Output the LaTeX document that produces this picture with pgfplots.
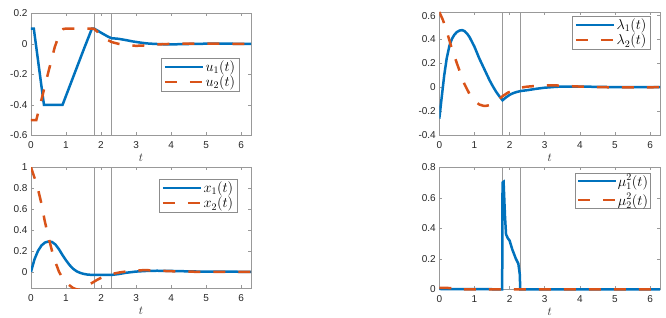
\documentclass[border=0pt]{standalone}
\usepackage[no-math]{fontspec}
\setmainfont{Liberation Sans}
\usepackage{pgfplots}
\usepackage{pgfplotstable}
\pgfplotsset{compat=1.18}
\definecolor{mblue}{RGB}{0,114,189}
\definecolor{morange}{RGB}{217,83,25}

\pgfplotstableread{
t v
0 0.1
0.08 0.1
0.37 -0.4
0.9 -0.4
1.1 -0.28
1.3 -0.16
1.5 -0.04
1.74 0.1
1.8 0.1
1.9 0.087
2.0 0.073
2.1 0.06
2.2 0.047
2.3 0.037
2.5 0.033
2.7 0.025
2.9 0.016
3.1 0.009
3.3 0.003
3.5 0
3.8 -0.003
4.1 -0.003
4.5 -0.001
5.0 0.001
5.5 0.001
6.2832 0
}\uone
\pgfplotstableread{
t v
0 -0.5
0.15 -0.5
0.3 -0.365
0.49 -0.19
0.68 -0.02
0.82 0.07
0.92 0.097
1.0 0.1
1.75 0.1
1.8 0.098
2.0 0.06
2.15 0.03
2.3 0.012
2.5 0.0
2.7 -0.008
3.0 -0.013
3.3 -0.01
3.6 -0.004
4.0 0
4.5 0.002
5.0 0.001
6.2832 0
}\utwo
\pgfplotstableread{
t v
0 0
0.1 0.12
0.2 0.2
0.3 0.252
0.4 0.28
0.5 0.29
0.6 0.285
0.7 0.26
0.8 0.215
0.9 0.16
1.0 0.11
1.1 0.065
1.2 0.03
1.3 0.005
1.4 -0.01
1.5 -0.02
1.6 -0.026
1.7 -0.029
1.8 -0.03
2.3 -0.03
2.5 -0.022
2.7 -0.01
3.0 0.002
3.3 0.008
3.6 0.01
4.0 0.008
4.5 0.004
5.0 0.001
6.2832 0
}\xone
\pgfplotstableread{
t v
0 1
0.1 0.9
0.2 0.79
0.3 0.65
0.39 0.49
0.5 0.33
0.6 0.2
0.7 0.09
0.8 0.0
0.9 -0.06
1.0 -0.1
1.1 -0.13
1.2 -0.155
1.3 -0.168
1.4 -0.172
1.5 -0.165
1.6 -0.14
1.7 -0.115
1.8 -0.095
1.9 -0.075
2.0 -0.058
2.1 -0.044
2.2 -0.032
2.3 -0.022
2.5 -0.008
2.7 0.002
3.0 0.012
3.25 0.016
3.5 0.013
3.8 0.008
4.2 0.003
4.7 0
5.2 -0.001
6.2832 0
}\xtwo
\pgfplotstableread{
t v
0 -0.263
0.07 -0.08
0.14 0.1
0.21 0.24
0.29 0.35
0.36 0.405
0.43 0.44
0.5 0.462
0.58 0.475
0.65 0.478
0.72 0.47
0.8 0.445
0.86 0.42
1.0 0.34
1.14 0.24
1.3 0.14
1.43 0.059
1.52 0.01
1.62 -0.039
1.72 -0.08
1.8 -0.109
1.9 -0.085
2.0 -0.064
2.1 -0.05
2.2 -0.04
2.33 -0.031
2.5 -0.025
2.76 -0.013
3.0 -0.004
3.3 0.003
3.53 0.006
4.0 0.006
4.5 0.003
5.0 0.001
6.2832 0
}\lone
\pgfplotstableread{
t v
0 0.63
0.1 0.565
0.19 0.49
0.33 0.35
0.52 0.184
0.71 0.03
0.9 -0.08
1.0 -0.115
1.14 -0.145
1.25 -0.155
1.33 -0.156
1.43 -0.15
1.52 -0.137
1.67 -0.109
1.81 -0.073
1.95 -0.046
2.1 -0.025
2.33 -0.003
2.5 0.005
2.76 0.011
3.0 0.015
3.24 0.016
3.5 0.013
3.8 0.008
4.2 0.003
4.7 0
5.2 -0.001
6.2832 0
}\ltwo
\pgfplotstableread{
t v
0 0.002
1.79 0
1.80 0.7
1.83 0.705
1.87 0.48
1.9 0.36
1.95 0.335
2.0 0.32
2.08 0.26
2.18 0.2
2.25 0.168
2.29 0.1
2.305 0
6.2832 0
}\mone
\pgfplotstableread{
t v
0 0.01
0.35 0.008
0.4 0
6.2832 0
}\mtwo

\pgfplotsset{
  mstyle/.style={
    scale only axis, width=220pt,
    xmin=0, xmax=6.2832, xtick={0,1,2,3,4,5,6},
    axis line style={draw=black!40, line width=0.6pt},
    tick style={draw=black!40, line width=0.5pt},
    tick align=inside, major tick length=3pt,
    ticklabel style={font=\fontsize{10}{12}\selectfont, text=black!85},
    xticklabel style={anchor=center, yshift=-10pt},
    yticklabel style={anchor=east},
    /pgf/number format/assume math mode=true,
    xlabel={$t$},
    xlabel style={font=\fontsize{13}{15}\selectfont, at={(axis description cs:0.5,0)}, anchor=center, yshift=-22.5pt, text=black!85},
    legend cell align=left,
    legend style={draw=black!45, font=\fontsize{14}{16}\selectfont, inner xsep=2pt, inner ysep=1pt, anchor=north east,
      nodes={inner sep=1.5pt}, row sep=0pt},
    legend image code/.code={\draw[##1, line width=2.5pt] (0pt,0pt) -- (38pt,0pt);},
  },
  c1/.style={mblue, line width=2.5pt},
  c2/.style={morange, line width=2.5pt, dash pattern=on 12pt off 13pt},
  vline/.style={black!40, line width=0.8pt, forget plot},
}

\begin{document}
\begin{tikzpicture}
\useasboundingbox (0,0) rectangle (666pt,318pt);
% top left
\begin{axis}[mstyle, at={(31pt,182.5pt)}, anchor=south west, height=122.2pt,
  ymin=-0.6, ymax=0.2, ytick={-0.6,-0.4,-0.2,0,0.2},
  legend style={at={(0.945,0.634)}}]
\addplot[vline] coordinates {(1.8,-0.6) (1.8,0.2)};
\addplot[vline] coordinates {(2.3,-0.6) (2.3,0.2)};
\addplot[c1] table[x=t,y=v] {\uone};
\addplot[c2] table[x=t,y=v] {\utwo};
\legend{$u_1(t)$,$u_2(t)$}
\end{axis}
% bottom left
\begin{axis}[mstyle, at={(31pt,29.5pt)}, anchor=south west, height=121.2pt,
  ymin=-0.16, ymax=1, ytick={0,0.2,0.4,0.6,0.8,1},
  legend style={at={(0.936,0.903)}}]
\addplot[vline] coordinates {(1.8,-0.16) (1.8,1)};
\addplot[vline] coordinates {(2.3,-0.16) (2.3,1)};
\addplot[c1] table[x=t,y=v] {\xone};
\addplot[c2] table[x=t,y=v] {\xtwo};
\legend{$x_1(t)$,$x_2(t)$}
\end{axis}
% top right
\begin{axis}[mstyle, at={(439.3pt,183pt)}, anchor=south west, width=220.7pt, height=123pt,
  ymin=-0.4, ymax=0.63, ytick={-0.4,-0.2,0,0.2,0.4,0.6},
  legend style={at={(0.955,0.967)}}]
\addplot[vline] coordinates {(1.8,-0.4) (1.8,0.63)};
\addplot[vline] coordinates {(2.3,-0.4) (2.3,0.63)};
\addplot[c1] table[x=t,y=v] {\lone};
\addplot[c2] table[x=t,y=v] {\ltwo};
\legend{$\lambda_1(t)$,$\lambda_2(t)$}
\end{axis}
% bottom right
\begin{axis}[mstyle, at={(439.3pt,28.7pt)}, anchor=south west, width=220.7pt, height=122pt,
  ymin=0, ymax=0.8, ytick={0,0.2,0.4,0.6,0.8}, clip=false,
  legend style={at={(0.958,0.956)}, row sep=5pt, nodes={inner sep=0.5pt}}]
\addplot[vline] coordinates {(1.8,0) (1.8,0.8)};
\addplot[vline] coordinates {(2.3,0) (2.3,0.8)};
\addplot[c1] table[x=t,y=v] {\mone};
\addplot[c2] table[x=t,y=v] {\mtwo};
\legend{$\mu_1^2(t)$,$\mu_2^2(t)$}
\end{axis}
\end{tikzpicture}
\end{document}
